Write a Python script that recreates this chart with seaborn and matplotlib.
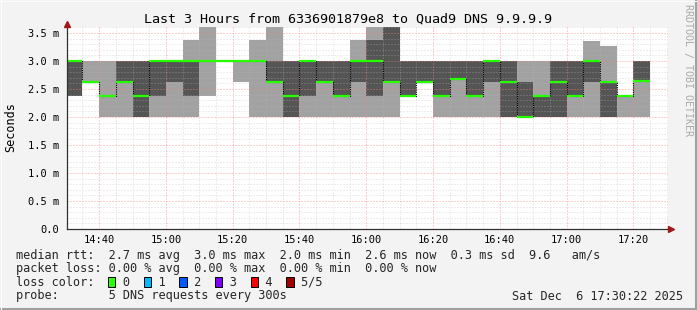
import matplotlib
matplotlib.use("Agg")
import matplotlib.pyplot as plt
import matplotlib.ticker as mticker
from matplotlib.patches import Rectangle
from matplotlib.lines import Line2D
import pandas as pd
import seaborn as sns

# ---------------- data ----------------
step_start = ["14:30", "14:35", "14:40", "14:45", "14:50", "14:55", "15:00",
              "15:05", "15:10", "15:15", "15:20", "15:25", "15:30", "15:35",
              "15:40", "15:45", "15:50", "15:55", "16:00", "16:05", "16:10",
              "16:15", "16:20", "16:25", "16:30", "16:35", "16:40", "16:45",
              "16:50", "16:55", "17:00", "17:05", "17:10", "17:15", "17:20"]
# sorted ping values per 5-minute step (ms)
ping1 = [2.38, 2.62, 2.00, 2.00, 2.00, 2.00, 2.00, 2.00, 2.38, 3.00, 2.62, 2.00,
         2.00, 2.00, 2.00, 2.00, 2.00, 2.00, 2.00, 2.00, 2.38, 2.62, 2.00, 2.00,
         2.00, 2.00, 2.00, 2.00, 2.00, 2.00, 2.00, 2.00, 2.00, 2.00, 2.00]
ping2 = [2.38, 2.62, 2.38, 2.62, 2.00, 2.38, 2.62, 2.38, 3.00, 3.00, 3.00, 3.00,
         2.62, 2.00, 2.38, 2.62, 2.38, 2.62, 2.38, 2.62, 2.38, 2.62, 2.38, 2.68,
         2.38, 2.62, 2.00, 2.00, 2.00, 2.00, 2.38, 2.62, 2.00, 2.38, 2.65]
ping3 = [3.00, 2.62, 2.38, 2.62, 2.38, 3.00, 3.00, 3.00, 3.00, 3.00, 3.00, 3.00,
         2.62, 2.38, 3.00, 2.62, 2.38, 3.00, 3.00, 2.62, 2.38, 2.62, 2.38, 2.68,
         2.38, 3.00, 2.62, 2.00, 2.38, 2.62, 2.38, 3.00, 2.62, 2.38, 2.65]
ping4 = [3.00, 2.62, 2.38, 3.00, 3.00, 3.00, 3.00, 3.00, 3.00, 3.00, 3.00, 3.00,
         3.00, 3.00, 3.00, 3.00, 3.00, 3.00, 3.37, 3.70, 3.00, 3.00, 3.00, 3.00,
         3.00, 3.00, 3.00, 2.62, 2.38, 3.00, 3.00, 3.00, 2.62, 2.38, 3.00]
ping5 = [3.00, 3.00, 3.00, 3.00, 3.00, 3.00, 3.00, 3.37, 3.70, 3.00, 3.00, 3.37,
         3.70, 3.00, 3.00, 3.00, 3.00, 3.37, 3.70, 3.70, 3.00, 3.00, 3.00, 3.00,
         3.00, 3.00, 3.00, 3.00, 3.00, 3.00, 3.00, 3.35, 3.26, 2.38, 3.00]
median = ping3
step_end = "17:25"
view_start = "14:30:22"
view_end = "17:30:22"

x_tick_labels = ["14:40", "15:00", "15:20", "15:40", "16:00", "16:20",
                 "16:40", "17:00", "17:20"]
y_ticks = [0.0, 0.5, 1.0, 1.5, 2.0, 2.5, 3.0, 3.5]
y_tick_labels = ["0.0", "0.5 m", "1.0 m", "1.5 m", "2.0 m", "2.5 m",
                 "3.0 m", "3.5 m"]

title = "Last 3 Hours from 6336901879e8 to Quad9 DNS 9.9.9.9"
y_label = "Seconds"
watermark = "RRDTOOL / TOBI OETIKER"
rtt_line = "median rtt:  2.7 ms avg  3.0 ms max  2.0 ms min  2.6 ms now  0.3 ms sd  9.6   am/s"
loss_line = "packet loss: 0.00 % avg  0.00 % max  0.00 % min  0.00 % now"
loss_labels = ["0", "1", "2", "3", "4", "5/5"]
loss_colors = ["#26ff00", "#00b8ff", "#0059ff", "#7e00ff", "#ff0000", "#a00000"]
probe_line = "probe:       5 DNS requests every 300s"
date_text = "Sat Dec  6 17:30:22 2025"


def to_min(s):
    parts = [int(p) for p in s.split(":")]
    v = parts[0] * 60 + parts[1]
    if len(parts) > 2:
        v += parts[2] / 60.0
    return v


# ---------------- style ----------------
sns.set_theme(style="white")
plt.rcParams["font.family"] = ["DejaVu Sans Mono", "DejaVu Sans"]

W, H = 697, 310
BG = "#f3f3f3"
LIGHT = "#a2a2a2"
DARK = "#555555"
GREEN = "#26ff00"

fig = plt.figure(figsize=(W / 100, H / 100), dpi=100, facecolor=BG)
ax_left, ax_right, ax_bottom, ax_top = 67, 668, 229, 27.4
ax = fig.add_axes([ax_left / W, (H - ax_bottom) / H,
                   (ax_right - ax_left) / W, (ax_bottom - ax_top) / H])
ax.set_facecolor("white")

df = pd.DataFrame({"start": [to_min(s) for s in step_start],
                   "p1": ping1, "p2": ping2, "p3": ping3,
                   "p4": ping4, "p5": ping5, "median": median})
df["end"] = df["start"] + 5

# smoke
ax.bar(df["start"], df["p2"] - df["p1"], bottom=df["p1"], width=5,
       align="edge", color=LIGHT, linewidth=0, zorder=1)
ax.bar(df["start"], df["p5"] - df["p4"], bottom=df["p4"], width=5,
       align="edge", color=LIGHT, linewidth=0, zorder=1)
ax.bar(df["start"], df["p4"] - df["p2"], bottom=df["p2"], width=5,
       align="edge", color=DARK, linewidth=0, zorder=1)

# median connectors (dotted) and median segments (green)
line_df = pd.DataFrame({"t": list(df["start"]) + [to_min(step_end)],
                        "m": list(df["median"]) + [df["median"].iloc[-1]]})
sns.lineplot(data=line_df, x="t", y="m", drawstyle="steps-post",
             color="#000000", linewidth=0.8, linestyle=(0, (1, 1)),
             estimator=None, sort=False, ax=ax, zorder=3)
ax.hlines(df["median"], df["start"], df["end"], colors=GREEN,
          linewidth=1.6, zorder=4)

ax.set_xlim(to_min(view_start), to_min(view_end))
ax.set_ylim(0, 3.6)
ax.set_xlabel("")
ax.set_ylabel("")

ax.xaxis.set_major_locator(mticker.FixedLocator([to_min(s) for s in x_tick_labels]))
ax.xaxis.set_major_formatter(mticker.FixedFormatter(x_tick_labels))
ax.xaxis.set_minor_locator(mticker.FixedLocator([to_min(s) for s in step_start] + [to_min(step_end), to_min("17:30")]))
ax.yaxis.set_major_locator(mticker.FixedLocator(y_ticks))
ax.yaxis.set_major_formatter(mticker.FixedFormatter(y_tick_labels))
ax.yaxis.set_minor_locator(mticker.MultipleLocator(0.1))

ax.set_axisbelow(False)
ax.grid(which="minor", color="#b8b8b8", linestyle=(0, (1, 2)),
        linewidth=0.72, alpha=0.5)
ax.grid(which="major", color="#ff8080", linestyle=(0, (1, 2)),
        linewidth=0.72, alpha=0.75)

ax.tick_params(axis="both", which="major", direction="out", length=2,
               width=0.72, color="#ff8080", labelsize=7.5, labelcolor="#000000")
ax.tick_params(axis="both", which="minor", direction="out", length=2,
               width=0.72, color="#b8b8b8")
ax.tick_params(axis="y", which="major", pad=3.6)
ax.tick_params(axis="x", which="major", pad=2.0)

for side in ["top", "right"]:
    ax.spines[side].set_visible(False)
for side in ["left", "bottom"]:
    ax.spines[side].set_color("#303030")
    ax.spines[side].set_linewidth(0.9)
    ax.spines[side].set_zorder(5)

# axis arrows
ax.plot([0, 0], [1.0, 1.012], color="#303030", lw=0.9,
        transform=ax.transAxes, clip_on=False, zorder=5)
ax.plot([0], [1.017], marker="^", ms=5, color="#a01818",
        transform=ax.transAxes, clip_on=False, zorder=6)
ax.plot([1.0, 1.003], [0, 0], color="#303030", lw=0.9,
        transform=ax.transAxes, clip_on=False, zorder=5)
ax.plot([1.005], [0], marker=">", ms=5, color="#a01818",
        transform=ax.transAxes, clip_on=False, zorder=6)

# texts
fig.text(0.5, 1 - 19 / H, title, ha="center", va="center", fontsize=9.6,
         color="#000000")
fig.text(10.5 / W, 1 - 127 / H, y_label, rotation=90, ha="center",
         va="center", fontsize=8.5, color="#000000")
fig.text(688.5 / W, 1 - 4 / H, watermark, rotation=-90, ha="center",
         va="top", fontsize=7.2, color="#a8a8a8")

LX = 16.0
CW = 7.14
rows_y = [255, 268.5, 282.3, 296]
loss_text = "loss color:" + "".join("    " + lab for lab in loss_labels)
fig.text(LX / W, 1 - rows_y[0] / H, rtt_line, ha="left", va="center", fontsize=8.54)
fig.text(LX / W, 1 - rows_y[1] / H, loss_line, ha="left", va="center", fontsize=8.54)
fig.text(LX / W, 1 - rows_y[2] / H, loss_text, ha="left", va="center", fontsize=8.54)
fig.text(LX / W, 1 - rows_y[3] / H, probe_line, ha="left", va="center", fontsize=8.54)
fig.text(512.5 / W, 1 - rows_y[3] / H, date_text, ha="left", va="center", fontsize=8.54)

for i, c in enumerate(loss_colors):
    x0 = LX + (13 + 5 * i) * CW - 1.0
    fig.add_artist(Rectangle((x0 / W, (H - 287) / H), 7.5 / W, 10 / H,
                             transform=fig.transFigure, facecolor=c,
                             edgecolor="#000000", linewidth=0.7))

# frame of the image
fig.add_artist(Line2D([0, 1], [1.5 / H, 1.5 / H], color="#a0a0a0", lw=1.5,
                      transform=fig.transFigure))
fig.add_artist(Line2D([1 - 1.5 / W, 1 - 1.5 / W], [0, 1], color="#a0a0a0", lw=1.5,
                      transform=fig.transFigure))
fig.add_artist(Line2D([0, 1], [1 - 0.5 / H, 1 - 0.5 / H], color="#fdfdfd", lw=0.8,
                      transform=fig.transFigure))
fig.add_artist(Line2D([0.5 / W, 0.5 / W], [0, 1], color="#fdfdfd", lw=0.8,
                      transform=fig.transFigure))

fig.savefig("out.png", dpi=100, facecolor=BG)
